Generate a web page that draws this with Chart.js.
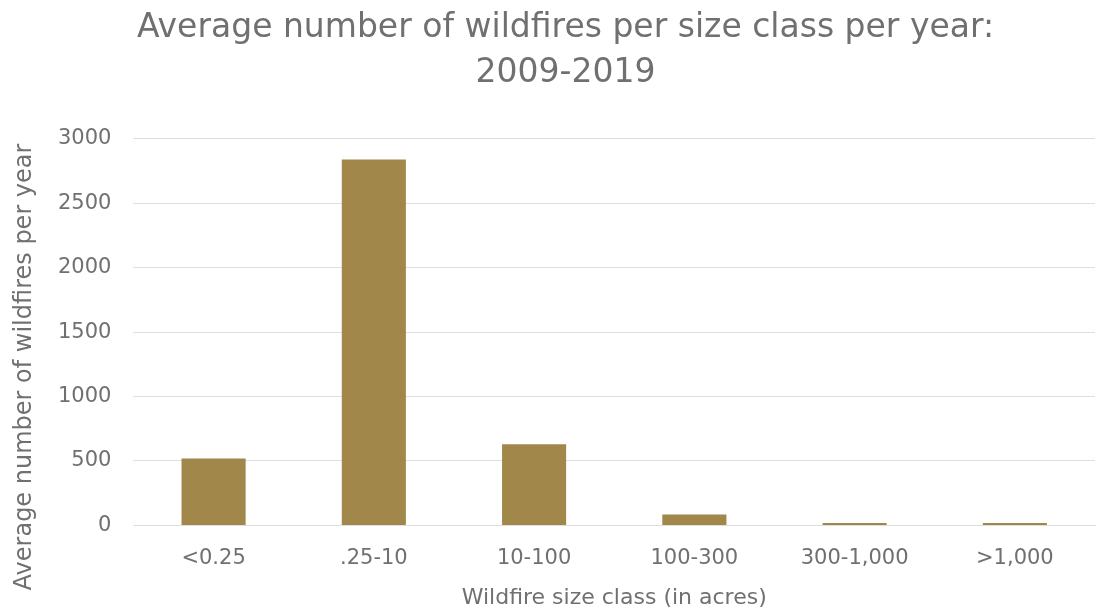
<!DOCTYPE html>
<html>
<head>
<meta charset="utf-8">
<script src="https://cdn.jsdelivr.net/npm/chart.js@4"></script>
<style>
  html, body { margin: 0; padding: 0; background: #fff; }
  #wrap { width: 1099px; height: 611px; }
</style>
</head>
<body>
<div id="wrap"><canvas id="myChart"></canvas></div>
<script>
var sizeClasses = ['<0.25', '.25-10', '10-100', '100-300', '300-1,000', '>1,000']
var avgFires = [520, 2840, 630, 85, 18, 18]
var yTicks = [0, 500, 1000, 1500, 2000, 2500, 3000]
var yTitle = 'Average number of wildfires per year'

var grey = '#707070'
var font = '"DejaVu Sans", sans-serif'

// y title sits a bit lower than the plot centre in the original, so draw it by hand
var yTitlePlugin = {
  id: 'yTitle',
  afterDraw(chart) {
    let c = chart.ctx
    c.save()
    c.translate(25, 367)
    c.rotate(-Math.PI / 2)
    c.fillStyle = grey
    c.font = '24px ' + font
    c.textAlign = 'center'
    c.textBaseline = 'middle'
    c.fillText(yTitle, 0, 0)
    c.restore()
  },
}

let ctx = document.getElementById('myChart').getContext('2d')
let myChart = new Chart(ctx, {
  type: 'bar',
  data: {
    labels: sizeClasses,
    datasets: [
      {
        label: 'Average number of wildfires',
        data: avgFires,
        backgroundColor: '#a2874b',
        categoryPercentage: 0.4,
        barPercentage: 1,
      },
    ],
  },
  plugins: [yTitlePlugin],
  options: {
    responsive: true,
    maintainAspectRatio: false,
    animation: false,
    layout: { padding: { left: 36, right: 4, top: 6, bottom: 0 } },
    plugins: {
      legend: { display: false },
      tooltip: { enabled: false },
      title: {
        display: true,
        text: ['Average number of wildfires per size class per year:', '2009-2019'],
        color: grey,
        font: { family: font, size: 33, weight: 'normal', lineHeight: 1.36 },
        padding: { top: 0, bottom: 43 },
      },
    },
    scales: {
      y: {
        min: 0,
        max: 3000,
        afterBuildTicks: (axis) => {
          axis.ticks = yTicks.map((v) => ({ value: v }))
        },
        grid: { color: '#dedede', drawTicks: false },
        border: { display: false },
        ticks: {
          color: grey,
          font: { family: font, size: 21 },
          padding: 22,
          callback: (v) => String(v),
        },
      },
      x: {
        grid: { display: false },
        border: { color: '#dedede', width: 1 },
        ticks: { color: grey, font: { family: font, size: 21 }, padding: 13 },
        title: {
          display: true,
          text: 'Wildfire size class (in acres)',
          color: grey,
          font: { family: font, size: 22 },
          padding: { top: 0, bottom: 0 },
        },
      },
    },
  },
})
</script>
</body>
</html>
